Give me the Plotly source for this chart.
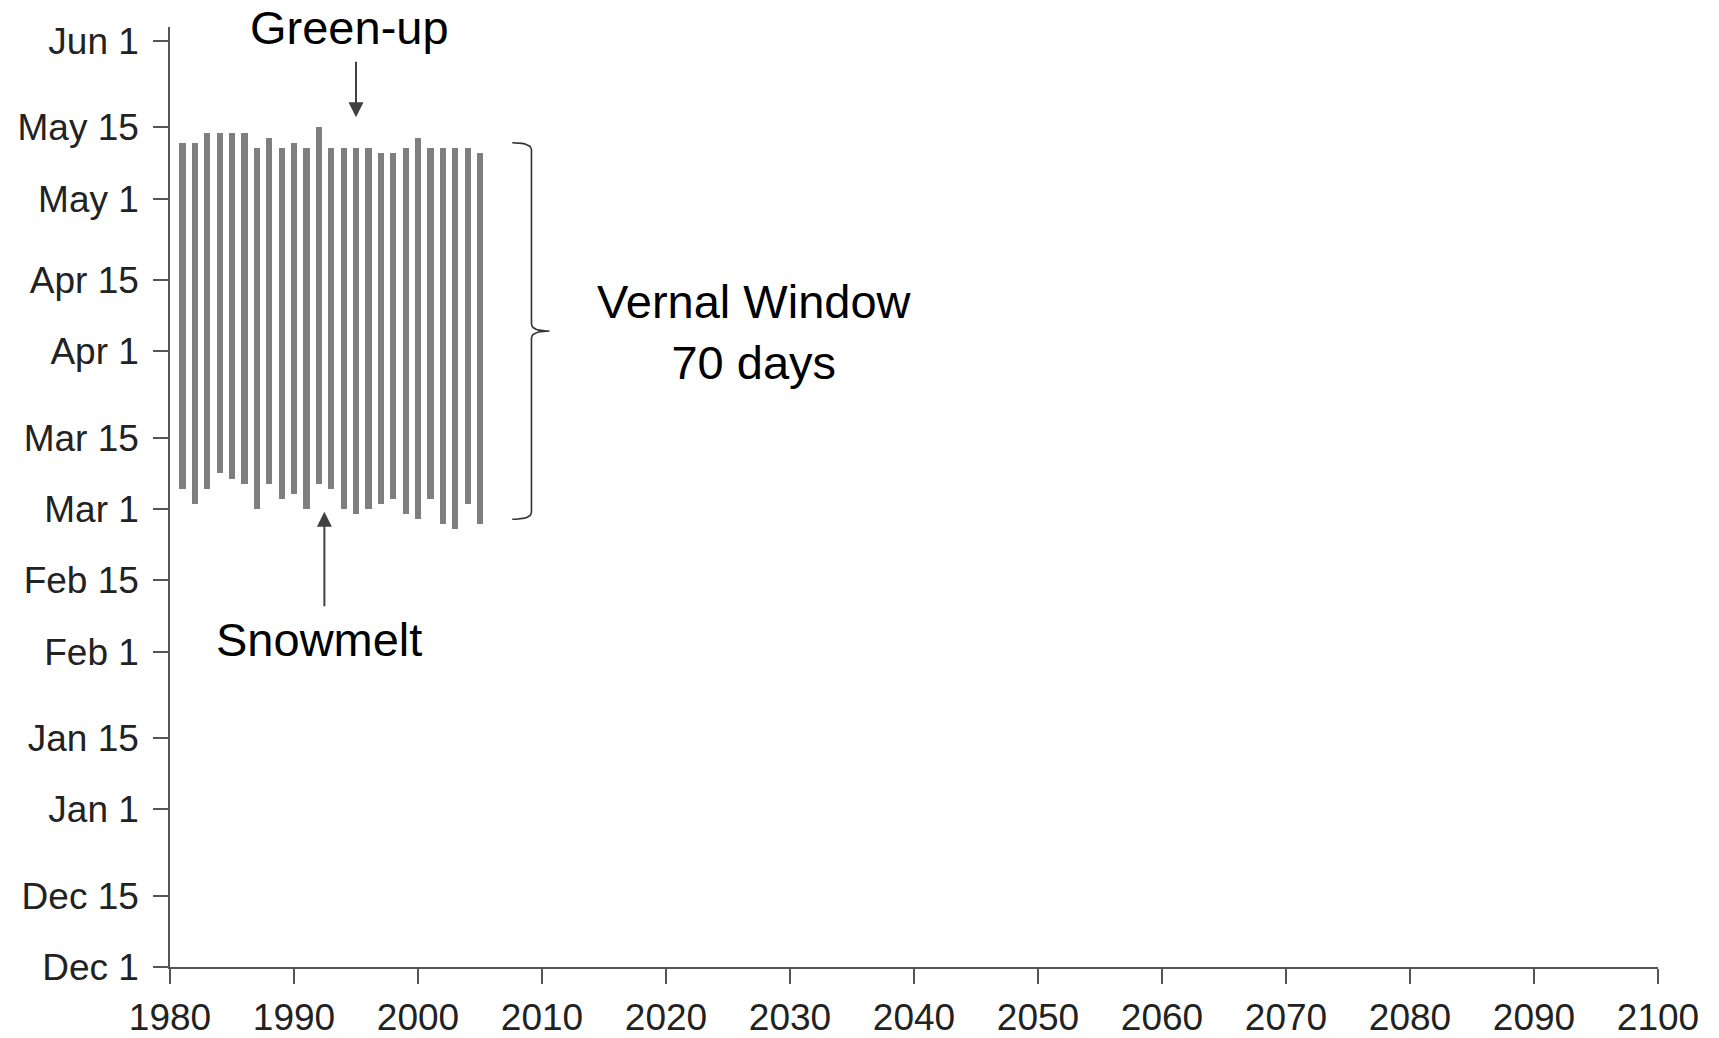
import pandas as pd
import plotly.graph_objects as go

# ---------------- data ----------------
years = list(range(1981, 2006))
greenup = ["05-12", "05-12", "05-14", "05-14", "05-14", "05-14", "05-11", "05-13", "05-11", "05-12",
           "05-11", "05-15", "05-11", "05-11", "05-11", "05-11", "05-10", "05-10", "05-11", "05-13",
           "05-11", "05-11", "05-11", "05-11", "05-10"]
snowmelt = ["03-05", "03-02", "03-05", "03-08", "03-07", "03-06", "03-01", "03-06", "03-03", "03-04",
            "03-01", "03-06", "03-05", "03-01", "02-28", "03-01", "03-02", "03-03", "02-28", "02-27",
            "03-03", "02-26", "02-25", "03-02", "02-26"]
y_tick_labels = ["Dec 1", "Dec 15", "Jan 1", "Jan 15", "Feb 1", "Feb 15", "Mar 1",
                 "Mar 15", "Apr 1", "Apr 15", "May 1", "May 15", "Jun 1"]
y_tick_md = ["12-01", "12-15", "01-01", "01-15", "02-01", "02-15", "03-01",
             "03-15", "04-01", "04-15", "05-01", "05-15", "06-01"]
x_ticks = list(range(1980, 2101, 10))
window_label = "Vernal Window<br>70 days"
brace_top_md, brace_bottom_md = "05-12", "02-27"


def season_date(md):
    """Month-day placed on a Dec-2000 .. Jun-2001 season axis."""
    yr = 2000 if int(md[:2]) >= 12 else 2001
    return pd.Timestamp(f"{yr}-{md}")


def fmt(ts):
    return ts.strftime("%Y-%m-%d %H:%M:%S")


season_start = season_date("12-01")
base = [fmt(season_date(s)) for s in snowmelt]
length_ms = [(season_date(g) - season_date(s)).total_seconds() * 1000.0
             for g, s in zip(greenup, snowmelt)]

FONT = "Liberation Sans, Arial, Helvetica, sans-serif"
AXIS = "#555555"

fig = go.Figure()
fig.add_trace(go.Bar(
    x=years, y=length_ms, base=base, width=0.5,
    marker=dict(color="#7f7f7f", line=dict(width=0)),
    hoverinfo="skip", showlegend=False,
))

# curly brace next to the bars (decoration), built in year / season-day units
bt = (season_date(brace_top_md) - season_start).days
bb = (season_date(brace_bottom_md) - season_start).days
bm = (bt + bb) / 2.0
x0, x1, x2, r = 2007.6, 2009.15, 2010.6, 1.4


def qbez(p0, p1, p2, n=10):
    pts = []
    for i in range(n + 1):
        t = i / n
        pts.append(((1 - t) ** 2 * p0[0] + 2 * (1 - t) * t * p1[0] + t ** 2 * p2[0],
                    (1 - t) ** 2 * p0[1] + 2 * (1 - t) * t * p1[1] + t ** 2 * p2[1]))
    return pts


pts = []
pts += qbez((x0, bt), (x1, bt), (x1, bt - r))
pts += qbez((x1, bm + r), (x1, bm), (x2, bm))
pts += qbez((x2, bm), (x1, bm), (x1, bm - r))
pts += qbez((x1, bb + r), (x1, bb), (x0, bb))
fig.add_trace(go.Scatter(
    x=[p[0] for p in pts],
    y=[fmt(season_start + pd.to_timedelta(p[1], unit="D")) for p in pts],
    mode="lines", line=dict(color="#333333", width=1.6),
    hoverinfo="skip", showlegend=False,
))

annotations = [
    dict(text="Green-up", x=1994.5, y=1.0, xref="x", yref="paper",
         showarrow=False, xanchor="center", yanchor="middle",
         font=dict(size=47, color="#000000", family=FONT)),
    dict(text="", x=1995.0, y="2001-05-17", xref="x", yref="y",
         showarrow=True, ax=0, ay=-57, arrowhead=2, arrowsize=1.5,
         arrowwidth=2, arrowcolor="#404040", standoff=0),
    dict(text="", x=1992.45, y="2001-02-28 12:00", xref="x", yref="y",
         showarrow=True, ax=0, ay=96, arrowhead=2, arrowsize=1.5,
         arrowwidth=2, arrowcolor="#404040", standoff=0),
    dict(text="Snowmelt", x=1992.05, y="2001-02-03 10:00", xref="x", yref="y",
         showarrow=False, xanchor="center", yanchor="middle",
         font=dict(size=47, color="#000000", family=FONT)),
    dict(text=window_label, x=2027.1, y="2001-04-04 18:00", xref="x", yref="y",
         showarrow=False, xanchor="center", yanchor="middle", align="center",
         font=dict(size=47, color="#000000", family=FONT)),
]

fig.update_layout(
    width=1719, height=1038,
    margin=dict(l=170, r=61, t=27, b=71, pad=0, autoexpand=False),
    paper_bgcolor="white", plot_bgcolor="white",
    font=dict(family=FONT, color="#222222", size=37),
    bargap=0,
    annotations=annotations,
    xaxis=dict(
        range=[1980, 2100], tickmode="array", tickvals=x_ticks,
        ticktext=[str(v) for v in x_ticks],
        showgrid=False, zeroline=False, showline=True, linecolor=AXIS, linewidth=1.5,
        ticks="outside", ticklen=15, tickwidth=1.5, tickcolor=AXIS,
        tickfont=dict(size=37, color="#222222", family=FONT),
        ticklabelstandoff=2, automargin=False,
        fixedrange=True,
    ),
    yaxis=dict(
        type="date",
        range=["2000-12-01", "2001-06-03 18:00"],
        tickmode="array", tickvals=[fmt(season_date(m)) for m in y_tick_md],
        ticktext=y_tick_labels,
        showgrid=False, zeroline=False, showline=True, linecolor=AXIS, linewidth=1.5,
        ticks="outside", ticklen=15, tickwidth=1.5, tickcolor=AXIS,
        tickfont=dict(size=37, color="#222222", family=FONT),
        ticklabelstandoff=7, automargin=False,
        fixedrange=True,
    ),
)

fig.write_html("out.html", config={"displayModeBar": False},
               post_script="document.body.style.margin='0px';")
